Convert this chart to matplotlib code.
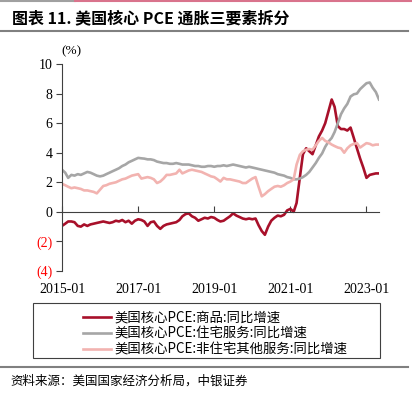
import pandas as pd
import matplotlib.pyplot as plt
from matplotlib.lines import Line2D
from matplotlib.patches import Rectangle
import matplotlib.dates as mdates
from matplotlib.ticker import FuncFormatter

# monthly, 2015-01 .. 2023-05 (YoY %)
months = pd.date_range("2015-01-01", periods=101, freq="MS")

goods = [
    -0.95, -0.8, -0.65, -0.65, -0.7, -0.95, -1.0, -0.85, -0.95, -0.85, -0.8, -0.75,
    -0.7, -0.65, -0.7, -0.75, -0.7, -0.6, -0.65, -0.55, -0.7, -0.6, -0.8, -0.6,
    -0.5, -0.55, -0.65, -0.95, -0.7, -0.65, -0.95, -1.15, -0.95, -0.85, -0.8, -0.75,
    -0.7, -0.55, -0.3, -0.15, -0.1, -0.3, -0.4, -0.6, -0.5, -0.4, -0.45, -0.35,
    -0.4, -0.55, -0.65, -0.6, -0.45, -0.3, -0.1, -0.25, -0.35, -0.45, -0.5, -0.45,
    -0.5, -0.45, -0.9, -1.3, -1.55, -1.0, -0.6, -0.4, -0.25, -0.3, -0.2, 0.1,
    0.2, 0.0, 0.6, 2.3, 3.9, 4.3, 4.1, 3.9, 4.5, 5.1, 5.5, 6.0,
    6.8, 7.6, 7.1, 5.8, 5.6, 5.6, 5.5, 5.7, 5.0, 4.3, 3.6, 3.0,
    2.3, 2.5, 2.55, 2.6, 2.6,
]

housing = [
    2.85, 2.65, 2.3, 2.5, 2.45, 2.55, 2.5, 2.6, 2.7, 2.65, 2.55, 2.45,
    2.4, 2.45, 2.55, 2.65, 2.75, 2.85, 2.95, 3.1, 3.2, 3.35, 3.45, 3.55,
    3.65, 3.62, 3.6, 3.55, 3.55, 3.5, 3.4, 3.35, 3.3, 3.3, 3.25, 3.25,
    3.3, 3.25, 3.2, 3.2, 3.2, 3.15, 3.1, 3.1, 3.05, 3.05, 3.1, 3.1,
    3.05, 3.1, 3.1, 3.15, 3.1, 3.15, 3.2, 3.15, 3.1, 3.05, 3.0, 3.05,
    3.0, 2.95, 2.9, 2.85, 2.8, 2.75, 2.7, 2.65, 2.55, 2.5, 2.45, 2.35,
    2.3, 2.2, 2.2, 2.25, 2.35, 2.5, 2.7, 3.0, 3.3, 3.65, 3.95, 4.4,
    4.75, 5.0, 5.4, 6.0, 6.6, 7.0, 7.3, 7.8, 7.95, 8.0, 8.3, 8.5,
    8.7, 8.75, 8.4, 8.1, 7.6,
]

other_services = [
    1.9, 1.8, 1.7, 1.6, 1.65, 1.6, 1.55, 1.45, 1.45, 1.4, 1.35, 1.25,
    1.5, 1.75, 1.8, 1.9, 1.95, 2.0, 2.1, 2.2, 2.25, 2.35, 2.45, 2.5,
    2.55, 2.25, 2.3, 2.35, 2.3, 2.2, 1.95, 2.05, 2.25, 2.5, 2.5, 2.55,
    2.6, 2.85, 2.6, 2.7, 2.8, 2.85, 2.8, 2.75, 2.7, 2.6, 2.5, 2.4,
    2.35, 2.2, 2.05, 2.3, 2.2, 2.2, 2.15, 2.1, 2.05, 1.95, 1.95, 2.1,
    2.25, 2.35, 1.7, 1.05, 1.2, 1.4, 1.55, 1.7, 1.75, 1.7, 1.8, 1.95,
    2.05, 2.2, 3.2, 3.85, 4.1, 4.2, 4.25, 4.2, 4.5, 4.8, 5.0, 4.8,
    4.7, 4.55, 4.45, 4.35, 4.3, 4.0, 4.3, 4.5, 4.6, 4.65, 4.35, 4.5,
    4.65, 4.6, 4.5, 4.55, 4.55,
]

labels = [
    "美国核心PCE:商品:同比增速",
    "美国核心PCE:住宅服务:同比增速",
    "美国核心PCE:非住宅其他服务:同比增速",
]
colors = ["#A8102A", "#A6A6A6", "#F2B3B0"]
y_ticks = [-4, -2, 0, 2, 4, 6, 8, 10]
x_ticks = ["2015-01", "2017-01", "2019-01", "2021-01", "2023-01"]

cjk = ["Noto Sans CJK SC", "DejaVu Sans"]
serif = "Liberation Serif"

W, H = 412, 398
fig = plt.figure(figsize=(W / 100, H / 100), dpi=100)
ax = fig.add_axes([62 / W, 1 - 271 / H, (379 - 62) / W, (271 - 64) / H])

for series, lab, col in zip([goods, housing, other_services], labels, colors):
    ax.plot(months, series, color=col, lw=1.9, label=lab)

ax.set_xlim(months[0], months[-1])
ax.set_ylim(-4, 10)
ax.set_yticks(y_ticks)
ax.yaxis.set_major_formatter(FuncFormatter(lambda v, p: f"({abs(v):.0f})" if v < 0 else f"{v:.0f}"))
ax.set_xticks(pd.to_datetime(x_ticks))
ax.xaxis.set_major_formatter(mdates.DateFormatter("%Y-%m"))

for s in ["top", "right"]:
    ax.spines[s].set_visible(False)
ax.spines["bottom"].set_position(("data", 0))
ax.spines["bottom"].set_color("#404040")
ax.spines["left"].set_color("#404040")
ax.spines["bottom"].set_linewidth(0.8)
ax.spines["left"].set_linewidth(0.8)
ax.tick_params(axis="x", direction="in", length=4, pad=51, colors="#404040", labelcolor="black")
ax.tick_params(axis="y", direction="out", length=4, pad=3, colors="#404040", labelcolor="black")
for lab in ax.get_xticklabels() + ax.get_yticklabels():
    lab.set_fontfamily(serif)
    lab.set_fontsize(10)
for v, lab in zip(y_ticks, ax.get_yticklabels()):
    if v < 0:
        lab.set_color("red")

fig.text(71 / W, 1 - 51 / H, "(%)", family=serif, fontsize=9.5, ha="center", va="center")

# legend inside a manual box
fig.add_artist(Rectangle((33 / W, 1 - 358 / H), (380 - 33) / W, (358 - 303) / H,
                         transform=fig.transFigure, fill=False, ec="#404040", lw=0.8))
leg = fig.legend(loc="upper left", bbox_to_anchor=(74 / W, 1 - 302 / H), frameon=False,
                 prop={"family": cjk, "size": 9.6}, handlelength=2.1, handletextpad=0.25,
                 labelspacing=0.15, borderpad=0.15)

# title, rules and source
fig.add_artist(Line2D([0, 75 / W], [1 - 1 / H] * 2, color="#A0A0A0", lw=1.5))
fig.add_artist(Line2D([75 / W, 1], [1 - 1 / H] * 2, color="#D9738C", lw=1.5))
fig.text(12 / W, 1 - 18 / H, "图表 11. 美国核心 PCE 通胀三要素拆分", family=cjk, fontsize=11.5,
         fontweight="bold", ha="left", va="center")
fig.add_artist(Line2D([0, 408 / W], [1 - 31 / H] * 2, color="#808080", lw=1.5))
fig.add_artist(Line2D([0, 408 / W], [1 - 367 / H] * 2, color="#808080", lw=1.5))
fig.text(10 / W, 1 - 381 / H, "资料来源：美国国家经济分析局，中银证券", family=cjk, fontsize=9,
         style="italic", ha="left", va="center")

fig.savefig("out.png", dpi=100)
